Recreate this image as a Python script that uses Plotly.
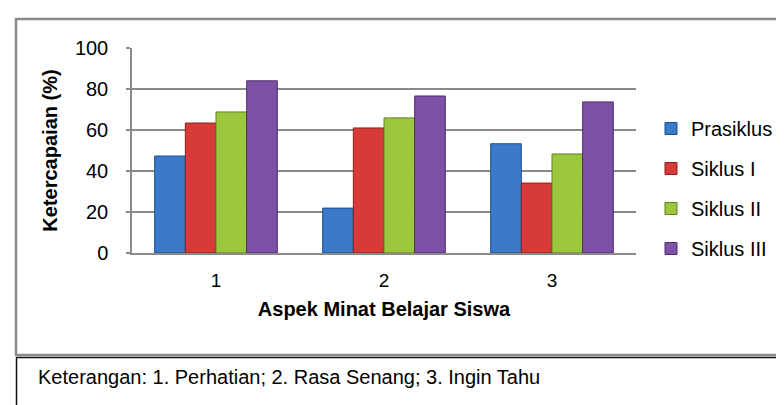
import plotly.graph_objects as go

categories = ["1", "2", "3"]
series_names = ["Prasiklus", "Siklus I", "Siklus II", "Siklus III"]
prasiklus = [47.3, 21.9, 53.3]
siklus_1 = [63.4, 61.0, 34.1]
siklus_2 = [68.8, 65.9, 48.3]
siklus_3 = [84.0, 76.6, 73.7]
y_ticks = [0, 20, 40, 60, 80, 100]
footnote = "Keterangan: 1. Perhatian; 2. Rasa Senang; 3. Ingin Tahu"
x_title = "Aspek Minat Belajar Siswa"
y_title = "Ketercapaian (%)"

colors = ["#3a7ac8", "#d63b38", "#9cc63c", "#7e50a6"]
edges = ["#1d4d8a", "#8a1f1d", "#5e7f1f", "#4c2c6b"]

W, H = 784, 405
L, R, T, B = 124, 156, 40, 160
pw, ph = W - L - R, H - T - B
FONT = "Liberation Sans, Arial, sans-serif"


def px(x):
    return (x - L) / pw


def py(y):
    return (T + ph - y) / ph


fig = go.Figure()
for i, (name, vals) in enumerate(zip(series_names, [prasiklus, siklus_1, siklus_2, siklus_3])):
    fig.add_trace(go.Bar(
        x=categories, y=vals, name=name, legendgroup=name,
        marker=dict(color=colors[i], line=dict(color=edges[i], width=1)),
    ))

shapes = [
    dict(type="rect", xref="paper", yref="paper", x0=px(8), x1=px(800), y0=py(347), y1=py(11),
         line=dict(color="#8a8a8a", width=2.5), layer="above"),
    dict(type="line", xref="paper", yref="paper", x0=px(8), x1=px(800), y0=py(349.5), y1=py(349.5),
         line=dict(color="#111111", width=1.5), layer="above"),
    dict(type="line", xref="paper", yref="paper", x0=px(8.5), x1=px(8.5), y0=py(349.5), y1=py(412),
         line=dict(color="#111111", width=1.5), layer="above"),
]

fig.update_layout(
    width=W, height=H,
    margin=dict(l=L, r=R, t=T, b=B, pad=0),
    paper_bgcolor="white", plot_bgcolor="white",
    barmode="group", bargap=0.27, bargroupgap=0,
    font=dict(family=FONT, size=19, color="black"),
    showlegend=True,
    legend=dict(x=px(643), xanchor="left", y=py(101), yanchor="top",
                font=dict(size=20, family=FONT), tracegroupgap=11,
                bgcolor="rgba(0,0,0,0)", borderwidth=0, itemclick=False),
    shapes=shapes,
    annotations=[
        dict(text=footnote, xref="paper", yref="paper", x=px(28), y=py(369),
             xanchor="left", yanchor="middle", showarrow=False,
             font=dict(size=20, family=FONT, color="black")),
    ],
    xaxis=dict(
        type="category", showgrid=False, showline=True, linecolor="#8a8a8a", linewidth=1.5,
        ticks="", tickfont=dict(size=19), ticklabelstandoff=9,
        title=dict(text="<b>" + x_title + "</b>", font=dict(size=20), standoff=12),
    ),
    yaxis=dict(
        range=[0, 100], tickvals=y_ticks, showgrid=True, gridcolor="#8a8a8a", gridwidth=1.5,
        showline=True, linecolor="#8a8a8a", linewidth=1.5, ticks="outside", ticklen=4,
        tickcolor="#8a8a8a", tickwidth=1.5, tickfont=dict(size=20), ticklabelstandoff=14,
        zeroline=False,
        title=dict(text="<b>" + y_title + "</b>", font=dict(size=20), standoff=12),
    ),
)

fig.write_html("out.html")
